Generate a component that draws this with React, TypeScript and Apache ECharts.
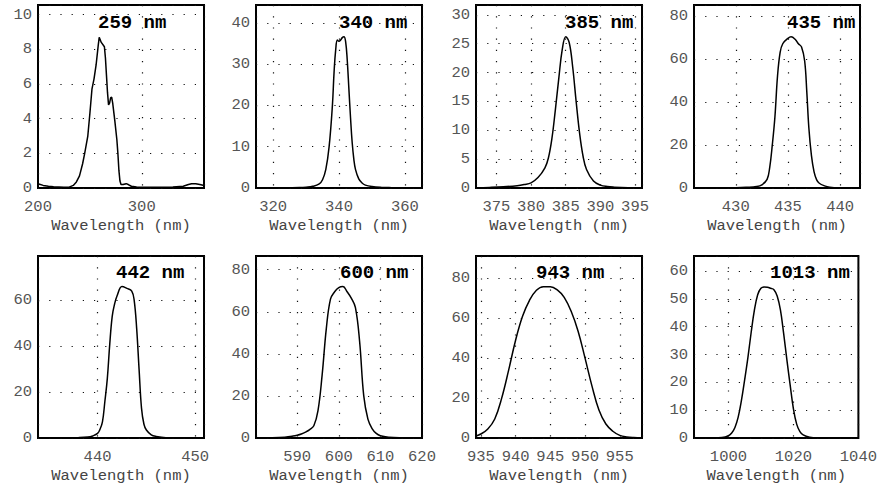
import React, { useEffect, useRef } from "react";
import * as echarts from "echarts";

// ---- Data ----
const TITLES = ["259 nm", "340 nm", "385 nm", "435 nm", "442 nm", "600 nm", "943 nm", "1013 nm"];
const X_LABEL = "Wavelength (nm)";

const P1_WL = [200, 205, 210, 215, 220, 225, 230, 234, 237, 240, 243, 245, 248, 250, 252, 254, 256, 258, 259, 261, 264, 265, 266, 267, 268, 269, 270, 271, 272, 274, 276, 277, 278, 279, 280, 282, 285, 287, 290, 295, 300, 310, 320, 330, 340, 345, 348, 352, 356, 360];
const P1_VAL = [0.25, 0.15, 0.1, 0.07, 0.06, 0.05, 0.05, 0.15, 0.35, 0.7, 1.4, 2.0, 3.0, 4.3, 5.7, 6.3, 7.1, 8.2, 8.7, 8.4, 8.15, 7.5, 6.5, 5.5, 4.8, 4.9, 5.2, 5.25, 4.9, 3.9, 2.8, 2.0, 1.0, 0.4, 0.2, 0.2, 0.25, 0.2, 0.1, 0.06, 0.05, 0.05, 0.05, 0.06, 0.1, 0.2, 0.25, 0.25, 0.2, 0.15];

const P2_WL = [315, 320, 325, 328, 330, 332, 334, 335, 336, 337, 338, 338.5, 339, 339.5, 340, 340.5, 341, 341.5, 342, 342.5, 343, 343.5, 344, 344.5, 345, 346, 347, 348, 350, 353, 356, 360, 365];
const P2_VAL = [0, 0, 0.05, 0.1, 0.2, 0.4, 1.0, 2.0, 4.5, 10, 20, 28, 33.5, 35.8, 35.5, 35.8, 36.4, 36.6, 35.5, 31, 24, 17, 11, 7, 4.5, 2.2, 1.2, 0.7, 0.35, 0.15, 0.08, 0.03, 0];

const P3_WL = [372, 374, 376, 378, 379, 380, 381, 382, 382.5, 383, 383.5, 384, 384.5, 385, 385.5, 386, 386.5, 387, 387.5, 388, 389, 390, 391, 392, 394, 396];
const P3_VAL = [0.05, 0.1, 0.2, 0.4, 0.6, 0.9, 1.8, 3.5, 5.2, 8.5, 13.5, 19, 24, 26.2, 25.2, 21, 15, 9.5, 5.5, 3.2, 1.2, 0.5, 0.25, 0.15, 0.05, 0.02];

const P4_WL = [426, 428, 430, 431, 432, 432.5, 433, 433.25, 433.5, 433.75, 434, 434.25, 434.5, 435, 435.3, 435.7, 436, 436.3, 436.6, 436.8, 437, 437.25, 437.5, 437.75, 438, 438.5, 439, 440, 442];
const P4_VAL = [0, 0.02, 0.1, 0.3, 0.7, 1.5, 4, 9.5, 20, 33, 52, 63, 67, 69.5, 70.2, 69, 67, 65.5, 59, 45, 28, 15, 7.5, 3.8, 2.2, 1.0, 0.4, 0.1, 0];

const P5_WL = [434, 436, 438, 439, 439.5, 440, 440.25, 440.5, 440.75, 441, 441.25, 441.5, 441.75, 442, 442.5, 443, 443.5, 443.75, 444, 444.25, 444.5, 444.75, 445, 445.5, 446, 447, 449, 451];
const P5_VAL = [0, 0.02, 0.15, 0.4, 0.9, 2.0, 3.8, 7, 16, 26, 41, 53, 58.5, 62, 66, 65.2, 64, 60, 48, 30, 13, 6, 3.5, 1.4, 0.7, 0.15, 0.02, 0];

const P6_WL = [580.1, 584, 587, 589, 590, 591, 592, 593, 594, 595, 596, 597, 598, 599, 600, 601, 602, 603, 604, 605, 606, 607, 608, 609, 610, 612, 615, 620];
const P6_VAL = [0, 0.1, 0.4, 0.9, 1.3, 1.9, 2.8, 4, 5.8, 13, 30, 52, 66, 69.5, 71.5, 72, 69.5, 66.5, 62, 46, 20, 9, 4.5, 2.2, 1.1, 0.4, 0.1, 0];

const P7_WL = [934.3, 935, 936, 937, 938, 939, 940, 941, 942, 943, 944, 945, 946, 947, 948, 949, 950, 951, 952, 953, 954, 955, 956, 957, 958.2];
const P7_VAL = [1.0, 2.0, 4.5, 9.5, 20, 34, 49, 61, 69, 74, 75.8, 75.8, 74.2, 70.5, 63.5, 53.5, 40, 26, 14, 7, 3.4, 1.3, 0.5, 0.2, 0.1];

const P8_WL = [990, 995, 998, 1000, 1001, 1002, 1003, 1004, 1005, 1006, 1007, 1008, 1009, 1010, 1011, 1012, 1013, 1014, 1015, 1016, 1017, 1018, 1019, 1020, 1021, 1022, 1023, 1025, 1028, 1032, 1040];
const P8_VAL = [0, 0.02, 0.15, 0.8, 1.8, 3.8, 7.5, 13.5, 21, 29, 38, 46, 51.5, 53.8, 54.3, 54.2, 53.8, 53.3, 51, 46, 37.5, 28, 19, 10.5, 5, 2.3, 1.1, 0.3, 0.05, 0, 0];

const WLS = [P1_WL, P2_WL, P3_WL, P4_WL, P5_WL, P6_WL, P7_WL, P8_WL];
const VALS = [P1_VAL, P2_VAL, P3_VAL, P4_VAL, P5_VAL, P6_VAL, P7_VAL, P8_VAL];

// axis ranges and tick steps
const X_MIN = [200, 314.8, 372.06, 426, 433.9, 580.1, 934.3, 989.4];
const X_MAX = [360, 365.2, 396, 441.9, 450.9, 620, 958.2, 1040];
const X_STEP = [100, 20, 5, 5, 10, 10, 5, 20];
const Y_MAX = [10.56, 44.3, 31.7, 85, 79.3, 86.5, 91.2, 65.4];
const Y_STEP = [2, 10, 5, 20, 20, 20, 20, 10];

// ---- Layout ----
const LEFTS = [38, 256, 476, 694];
const TOPS = [5, 256];
const HEIGHTS = [183, 182];
const WIDTH = 166;
const TITLE_POS = [
  [98, 23], [339, 23], [565, 23], [787, 23],
  [116, 273], [340, 273], [536, 273], [770, 273],
];

const MONO = '"Liberation Mono", "Courier New", monospace';

function stepFormatter(step: number) {
  return (v: number) => {
    const r = v / step;
    return Math.abs(r - Math.round(r)) < 1e-6 ? String(Math.round(v * 1000) / 1000) : "";
  };
}

export default function App() {
  const ref = useRef<HTMLDivElement>(null);
  useEffect(() => {
    if (!ref.current) return;
    const chart = echarts.init(ref.current, undefined, { renderer: "svg" });
    const grids: any[] = [];
    const xAxes: any[] = [];
    const yAxes: any[] = [];
    const series: any[] = [];
    const graphics: any[] = [];
    const dotted = { color: "#111", type: [1.2, 10], width: 1.2 };
    for (let i = 0; i < 8; i++) {
      const row = Math.floor(i / 4);
      const col = i % 4;
      grids.push({
        left: LEFTS[col],
        top: TOPS[row],
        width: WIDTH,
        height: HEIGHTS[row],
        show: true,
        borderColor: "#000",
        borderWidth: 2,
        backgroundColor: "#fff",
        containLabel: false,
      });
      xAxes.push({
        type: "value",
        gridIndex: i,
        min: X_MIN[i],
        max: X_MAX[i],
        minInterval: X_STEP[i],
        maxInterval: X_STEP[i],
        axisLine: { show: false },
        axisTick: { show: false },
        splitLine: { show: true, lineStyle: dotted },
        axisLabel: {
          formatter: stepFormatter(X_STEP[i]),
          color: "#555",
          fontFamily: MONO,
          fontSize: 15.5,
          margin: 11,
          showMinLabel: true,
          showMaxLabel: true,
        },
        name: X_LABEL,
        nameLocation: "middle",
        nameGap: 30,
        nameTextStyle: { color: "#444", fontFamily: MONO, fontSize: 15.5 },
      });
      yAxes.push({
        type: "value",
        gridIndex: i,
        min: 0,
        max: Y_MAX[i],
        interval: Y_STEP[i],
        axisLine: { show: false },
        axisTick: { show: false },
        splitLine: { show: true, lineStyle: dotted },
        axisLabel: {
          formatter: stepFormatter(Y_STEP[i]),
          color: "#555",
          fontFamily: MONO,
          fontSize: 15.5,
          margin: 6,
          showMinLabel: true,
          showMaxLabel: true,
        },
      });
      series.push({
        type: "line",
        xAxisIndex: i,
        yAxisIndex: i,
        data: WLS[i].map((w, k) => [w, VALS[i][k]]),
        showSymbol: false,
        smooth: i === 0 ? false : 0.4,
        lineStyle: { color: "#000", width: 1.5 },
        silent: true,
      });
      graphics.push({
        type: "text",
        x: TITLE_POS[i][0],
        y: TITLE_POS[i][1],
        z: 100,
        style: {
          text: TITLES[i],
          fill: "#000",
          fontFamily: MONO,
          fontWeight: "bold",
          fontSize: 19,
          verticalAlign: "middle",
          align: "left",
        },
      });
    }
    chart.setOption({
      animation: false,
      backgroundColor: "#fff",
      grid: grids,
      xAxis: xAxes,
      yAxis: yAxes,
      series,
      graphic: graphics,
    });
    return () => chart.dispose();
  }, []);
  return (
    <div
      ref={ref}
      style={{ position: "fixed", left: 0, top: 0, width: 880, height: 488, background: "#fff" }}
    />
  );
}
